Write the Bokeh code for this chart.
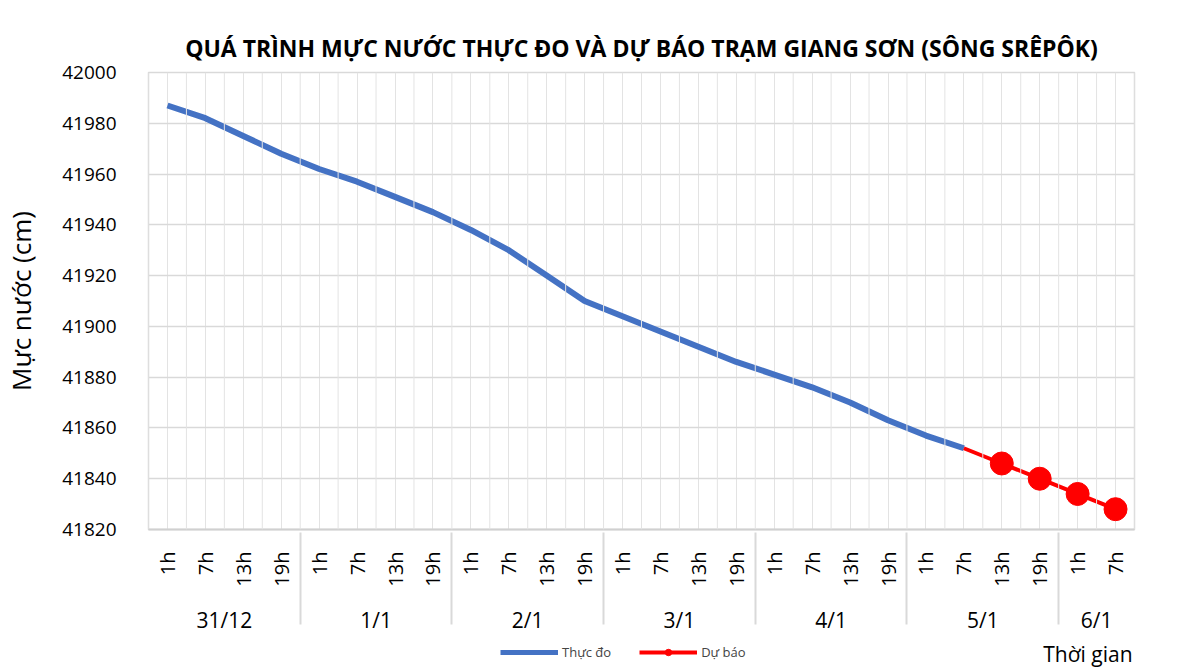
import math
from bokeh.plotting import figure
from bokeh.layouts import column
from bokeh.models import (FactorRange, Span, Legend, LegendItem, Label, ColumnDataSource,
                          Range1d, SingleIntervalTicker)
from bokeh.embed import file_html
from bokeh.resources import INLINE

days = ["31/12", "1/1", "2/1", "3/1", "4/1", "5/1", "6/1"]
hours_per_day = [["1h", "7h", "13h", "19h"]] * 6 + [["1h", "7h"]]
factors = [(d, h) for d, hs in zip(days, hours_per_day) for h in hs]

observed = [41987, 41982, 41975, 41968, 41962, 41957, 41951, 41945,
            41938, 41930, 41920, 41910, 41904, 41898, 41892, 41886,
            41881, 41876, 41870, 41863, 41857, 41852]
forecast = [41852, 41846, 41840, 41834, 41828]

obs_x = factors[:len(observed)]
fc_x = factors[len(observed) - 1:]

FONT = "Open Sans"
BLUE = "#4472C4"
RED = "#FF0000"

p = figure(width=1196, height=637, output_backend="svg", toolbar_location=None,
           x_range=FactorRange(*factors, factor_padding=0, group_padding=0,
                               subgroup_padding=0, range_padding=0),
           y_range=Range1d(41820, 42000),
           min_border_left=146, min_border_right=62, min_border_top=72,
           min_border_bottom=108)

p.title.text = "QUÁ TRÌNH MỰC NƯỚC THỰC ĐO VÀ DỰ BÁO TRẠM GIANG SƠN (SÔNG SRÊPÔK)"
p.title.align = "center"
p.title.text_font = FONT
p.title.text_font_size = "23px"
p.title.text_font_style = "bold"
p.title.text_color = "#000000"
p.title.standoff = 18

p.outline_line_color = "#d9d9d9"
p.outline_line_width = 1.5

# grids
p.ygrid.ticker = SingleIntervalTicker(interval=20)
p.ygrid.grid_line_color = "#d9d9d9"
p.ygrid.grid_line_width = 1.5
p.xgrid.grid_line_color = "#e3e3e3"
p.xgrid.grid_line_width = 1
for i in range(len(factors) + 1):
    p.add_layout(Span(location=i, dimension="height", line_color="#e3e3e3", line_width=1))

# y axis
p.yaxis.ticker = SingleIntervalTicker(interval=20)
p.yaxis.axis_label = "Mực nước (cm)"
p.yaxis.axis_label_text_font = FONT
p.yaxis.axis_label_text_font_size = "26px"
p.yaxis.axis_label_text_font_style = "normal"
p.yaxis.axis_label_text_color = "#000000"
p.yaxis.axis_label_standoff = 20
p.yaxis.major_label_text_font = FONT
p.yaxis.major_label_text_font_size = "19px"
p.yaxis.major_label_text_color = "#000000"
p.yaxis.major_label_standoff = 26
p.yaxis.axis_line_color = None
p.yaxis.major_tick_line_color = None
p.yaxis.minor_tick_line_color = None

# x axis
xa = p.xaxis[0]
xa.major_label_orientation = math.pi / 2
xa.major_label_text_font = FONT
xa.major_label_text_font_size = "20px"
xa.major_label_text_color = "#000000"
xa.major_label_standoff = 16
xa.group_text_font = FONT
xa.group_text_font_size = "21px"
xa.group_text_font_style = "normal"
xa.group_text_color = "#000000"
xa.group_label_orientation = "horizontal"
xa.axis_line_color = "#d0d0d0"
xa.axis_line_width = 2
xa.major_tick_line_color = None
xa.minor_tick_line_color = None
xa.separator_line_color = "#d9d9d9"
xa.separator_line_width = 2

# data
src_obs = ColumnDataSource(dict(x=obs_x, y=observed))
src_fc = ColumnDataSource(dict(x=fc_x, y=forecast))
src_fc_pts = ColumnDataSource(dict(x=fc_x[1:], y=forecast[1:]))

p.line("x", "y", source=src_obs, line_color=BLUE, line_width=6)
p.line("x", "y", source=src_fc, line_color=RED, line_width=4)
p.scatter("x", "y", source=src_fc_pts, size=23, fill_color=RED, line_color=RED)

# legend row (separate strip below the chart; its frame aligns with the chart frame)
p2 = figure(width=1196, height=30, output_backend="svg", toolbar_location=None,
            x_range=Range1d(146, 1134), y_range=Range1d(0, 30),
            min_border_left=0, min_border_right=0, min_border_top=0, min_border_bottom=0)
p2.axis.visible = False
p2.grid.visible = False
p2.outline_line_color = None

# legend swatches: renderers placed off-range so only the legend glyphs show
swatch = ColumnDataSource(dict(x=[-1000], y=[-1000]))
l_obs = p2.line("x", "y", source=swatch, line_color=BLUE, line_width=5)
l_fc = p2.line("x", "y", source=swatch, line_color=RED, line_width=4)
l_fc_pt = p2.scatter("x", "y", source=swatch, size=6, fill_color=RED, line_color=RED)

legend = Legend(items=[LegendItem(label="Thực đo", renderers=[l_obs]),
                       LegendItem(label="Dự báo", renderers=[l_fc, l_fc_pt])],
                orientation="horizontal", location=(352, 6),
                label_text_font=FONT, label_text_font_size="13px",
                glyph_width=58, glyph_height=16, label_height=16,
                spacing=28, padding=0, margin=0, border_line_color=None,
                background_fill_alpha=0, label_standoff=4)
p2.add_layout(legend, "center")

p2.add_layout(Label(x=1132, y=0, text="Thời gian", text_align="right", text_baseline="bottom",
                    text_font=FONT, text_font_size="21px", text_color="#000000"))

open("out.html", "w").write(file_html(column(p, p2, spacing=0), INLINE))
